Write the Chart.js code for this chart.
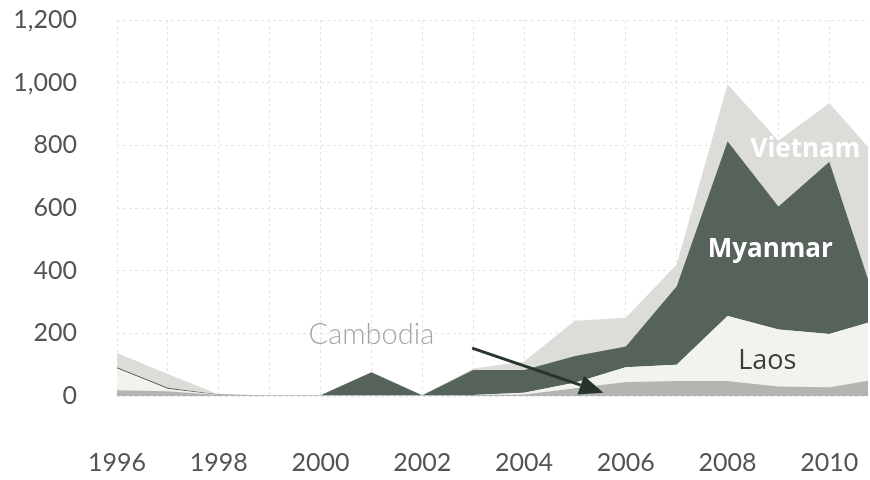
<!DOCTYPE html>
<html>
<head>
<meta charset="utf-8">
<script src="https://cdn.jsdelivr.net/npm/chart.js@4.4.1/dist/chart.umd.min.js"></script>
<style>
  html, body { margin: 0; padding: 0; background: #fff; }
  #grafico { display: block; }
</style>
</head>
<body>
<canvas id="grafico" width="870" height="480"></canvas>
<script>
// valores (empilhados: Cambodia, Laos, Myanmar, Vietnam)
const years    = [1996, 1997, 1998, 1999, 2000, 2001, 2002, 2003, 2004, 2005, 2006, 2007, 2008, 2009, 2010, 2011];
const cambodia = [18, 15, 3, 2, 2, 2, 2, 3, 5, 25, 45, 48, 48, 30, 28, 55];
const laos     = [70, 7, 0, 0, 0, 0, 0, 0, 5, 17, 47, 52, 207, 182, 170, 190];
const myanmar  = [4, 4, 2, 0, 0, 74, 0, 80, 73, 86, 66, 250, 558, 393, 550, 10];
const vietnam  = [45, 44, 0, 0, 0, 0, 0, 5, 27, 112, 92, 70, 182, 210, 187, 495];

const yTicks = [0, 200, 400, 600, 800, 1000, 1200];
const xLabelYears = [1996, 1998, 2000, 2002, 2004, 2006, 2008, 2010];

function toPoints(values) {
    return values.map((v, i) => ({ x: years[i], y: v }));
}

// rótulos e seta desenhados por cima das áreas
const rotulosPlugin = {
    id: 'rotulos',
    afterDatasetsDraw(chart) {
        const ctx = chart.ctx;
        const sx = chart.scales.x;
        const sy = chart.scales.y;
        const px = v => sx.getPixelForValue(v);
        const py = v => sy.getPixelForValue(v);

        ctx.save();
        ctx.textAlign = 'center';
        ctx.textBaseline = 'middle';

        ctx.font = '300 29px Lato';
        ctx.fillStyle = '#a4a6a3';
        ctx.fillText('Cambodia', px(2001.0), py(196));

        ctx.font = '27px "Open Sans"';
        ctx.fillStyle = '#3a3d3a';
        ctx.fillText('Laos', px(2008.78), py(110));

        ctx.font = 'bold 26px "Open Sans"';
        ctx.fillStyle = '#ffffff';
        ctx.fillText('Myanmar', px(2008.84), py(466));
        ctx.fillText('Vietnam', px(2009.53), py(785));

        // seta
        const x1 = px(2002.98), y1 = py(153);
        const x2 = px(2005.56), y2 = py(10);
        const ang = Math.atan2(y2 - y1, x2 - x1);
        const len = 24, half = 10;
        const bx = x2 - len * Math.cos(ang), by = y2 - len * Math.sin(ang);
        ctx.strokeStyle = '#27352c';
        ctx.fillStyle = '#27352c';
        ctx.lineWidth = 3;
        ctx.beginPath();
        ctx.moveTo(x1, y1);
        ctx.lineTo(bx, by);
        ctx.stroke();
        ctx.beginPath();
        ctx.moveTo(x2, y2);
        ctx.lineTo(bx + half * Math.sin(ang), by - half * Math.cos(ang));
        ctx.lineTo(bx - half * Math.sin(ang), by + half * Math.cos(ang));
        ctx.closePath();
        ctx.fill();
        ctx.restore();
    }
};

function renderizarGrafico() {
    const ctx = document.getElementById('grafico').getContext('2d');

    const serie = (label, values, color, fill) => ({
        label: label,
        data: toPoints(values),
        backgroundColor: color,
        borderColor: color,
        borderWidth: 0,
        pointRadius: 0,
        tension: 0,
        fill: fill
    });

    window.grafico = new Chart(ctx, {
        type: 'line',
        plugins: [rotulosPlugin],
        data: {
            datasets: [
                serie('Cambodia', cambodia, '#b3b6b0', 'origin'),
                serie('Laos', laos, '#f2f2ef', '-1'),
                serie('Myanmar', myanmar, '#55635a', '-1'),
                serie('Vietnam', vietnam, '#dcddd8', '-1')
            ]
        },
        options: {
            responsive: false,
            animation: false,
            layout: { padding: { top: 20, right: 2, left: 0, bottom: 0 } },
            scales: {
                x: {
                    type: 'linear',
                    min: 1996,
                    max: 2010.76,
                    grid: { color: '#e4e4e2', drawTicks: false },
                    border: { display: false, dash: [3, 3] },
                    // sem margem extra dos rótulos nas pontas
                    afterFit: s => { s.height = 84; s.paddingLeft = 0; s.paddingRight = 0; },
                    ticks: {
                        stepSize: 1,
                        autoSkip: false,
                        includeBounds: false,
                        maxRotation: 0,
                        padding: 52,
                        color: '#50554f',
                        font: { family: 'Lato', size: 25 },
                        callback: v => xLabelYears.includes(v) ? String(v) : ''
                    }
                },
                y: {
                    stacked: true,
                    min: yTicks[0],
                    max: yTicks[yTicks.length - 1],
                    grid: { color: '#e4e4e2', drawTicks: false },
                    border: { display: false, dash: [3, 3] },
                    afterFit: s => { s.width = 117; s.paddingTop = 0; s.paddingBottom = 0; },
                    ticks: {
                        stepSize: 200,
                        padding: 40,
                        color: '#50554f',
                        font: { family: 'Lato', size: 25 },
                        callback: v => yTicks.includes(v) ? v.toLocaleString('en-US') : ''
                    }
                }
            },
            plugins: {
                legend: { display: false },
                tooltip: { enabled: false }
            }
        }
    });
}

renderizarGrafico();
</script>
</body>
</html>
